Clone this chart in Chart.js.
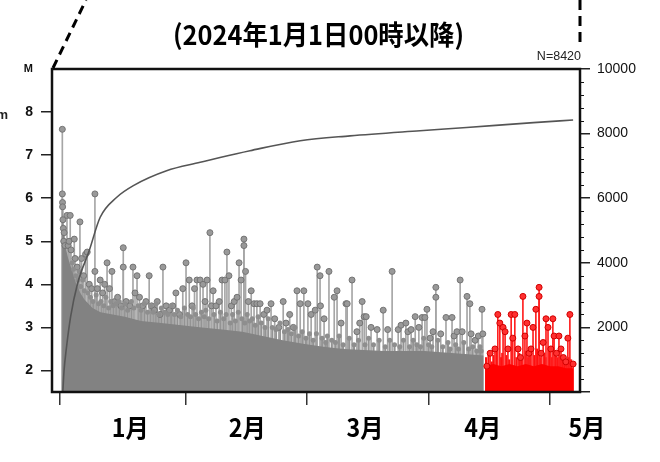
<!DOCTYPE html>
<html>
<head>
<meta charset="utf-8">
<script src="https://cdn.jsdelivr.net/npm/chart.js@4.4.1/dist/chart.umd.min.js"></script>
<style>
  body { margin: 0; background: #fff; }
  #wrap { width: 660px; height: 462px; }
</style>
</head>
<body>
<div id="wrap"><canvas id="eqChart" width="660" height="462"></canvas></div>
<script>
// x axis = days since 2024-01-01 00:00
const tickDays = [0, 31, 61, 91, 121];
const monthLabels = ['1月', '2月', '3月', '4月', '5月'];
const monthLabelDays = [17.3, 46.2, 75.3, 104.4, 130.1];
const magTicks = [2, 3, 4, 5, 6, 7, 8, 9];
const countTicks = [0, 2000, 4000, 6000, 8000, 10000];

// larger events (gray, before the last period)
const grayDays = [0.55, 0.55, 0.6, 0.62, 0.7, 0.8, 0.9, 1.0, 1.2, 1.7, 2.0, 2.2, 2.5, 2.7, 3.5, 3.7, 4.2, 4.9, 5.3, 5.8,
  6.3, 6.7, 7.2, 7.8, 8.6, 8.6, 9.2, 9.9, 10.5, 11.0, 11.6, 12.2, 12.8, 13.5, 14.2, 15.0, 15.6, 15.6, 16.3, 17.2,
  18.0, 18.5, 19.0, 19.6, 20.4, 21.2, 22.0, 22.6, 23.3, 24.0, 24.7, 25.4, 26.2, 27.0, 27.8, 28.6, 29.5, 30.3, 31.1, 31.9,
  32.6, 33.2, 33.8, 34.6, 35.3, 35.8, 36.3, 37.0, 37.4, 37.8, 38.5, 39.3, 40.0, 40.7, 41.2, 41.7, 42.3, 43.0, 43.7, 44.2,
  44.7, 45.4, 45.4, 45.8, 46.5, 47.2, 47.9, 48.6, 49.4, 50.3, 51.1, 52.1, 53.0, 54.0, 55.1, 55.8, 56.7, 57.6, 58.5, 59.3,
  60.2, 61.2, 62.0, 63.0, 63.5, 64.2, 64.3, 65.2, 66.4, 67.7, 68.4, 69.4, 70.6, 70.9, 72.1, 73.3, 74.0, 74.6, 75.1, 75.6,
  76.8, 78.3, 79.8, 80.9, 82.0, 83.5, 84.2, 85.4, 85.9, 86.7, 87.7, 88.6, 89.4, 90.1, 90.6, 91.4, 92.1, 92.8, 92.8, 94.0,
  95.3, 96.8, 97.3, 98.0, 98.8, 99.3, 100.5, 101.2, 101.5, 102.5, 103.3, 104.2, 104.4];
const grayMags = [7.6, 6.1, 5.9, 5.8, 5.5, 5.3, 5.0, 5.2, 4.9, 5.6, 4.9, 5.0, 5.6, 4.8, 5.05, 4.6, 4.4, 5.45, 4.6, 4.2,
  4.7, 4.75, 4.0, 3.9, 6.1, 4.3, 3.9, 4.1, 3.8, 4.0, 4.5, 3.9, 4.3, 3.6, 3.7, 3.5, 4.85, 4.4, 3.6, 3.5,
  4.4, 3.8, 4.2, 3.7, 3.5, 3.6, 4.2, 3.5, 3.4, 3.6, 3.3, 4.4, 3.5, 3.4, 3.5, 3.8, 3.3, 3.9, 4.5, 4.1,
  3.5, 3.9, 4.1, 4.1, 4.0, 3.6, 4.1, 5.2, 3.5, 3.85, 3.5, 3.6, 4.1, 4.1, 4.75, 4.2, 3.5, 3.6, 3.7, 4.5,
  4.1, 5.05, 4.9, 4.3, 3.6, 3.85, 3.55, 3.55, 3.55, 3.3, 3.4, 3.55, 3.2, 3.0, 3.6, 3.1, 3.3, 3.0, 3.85, 3.55,
  3.85, 3.55, 3.3, 3.4, 4.4, 4.2, 3.5, 3.2, 4.3, 3.7, 3.85, 3.1, 3.55, 3.55, 4.1, 2.9, 3.1, 3.6, 3.25, 3.25,
  3.0, 2.95, 3.4, 2.95, 4.3, 2.95, 3.05, 3.1, 2.9, 2.95, 3.25, 3.0, 3.23, 3.23, 3.42, 2.75, 2.9, 3.93, 3.7, 2.85,
  3.23, 3.23, 2.8, 2.9, 4.1, 2.9, 3.72, 3.55, 2.85, 2.7, 2.8, 3.42, 2.85];

// smaller events just above the dense mass (gray)
const minorDays = [3.0, 3.3, 3.9, 4.4, 4.7, 5.1, 5.6, 6.0, 6.9, 7.5, 8.1, 8.9, 9.5, 10.1, 10.8, 11.3, 12.0, 12.5, 13.1, 13.8,
  14.6, 15.2, 16.0, 16.7, 17.6, 18.2, 19.3, 20.0, 20.8, 21.6, 22.3, 23.0, 23.7, 24.4, 25.0, 25.8, 26.6, 27.4, 28.2, 29.0,
  29.8, 30.7, 31.5, 32.2, 32.9, 33.5, 34.2, 34.9, 35.6, 36.0, 36.7, 38.0, 38.8, 39.6, 40.4, 41.0, 42.0, 42.6, 43.3, 44.0,
  44.9, 45.6, 46.2, 46.8, 47.5, 48.2, 48.9, 49.7, 50.6, 51.4, 52.4, 53.3, 54.3, 55.4, 56.3, 57.1, 58.0, 58.9, 59.8, 60.7,
  61.6, 62.5, 63.3, 64.7, 65.6, 66.0, 67.1, 68.0, 68.9, 69.9, 71.4, 72.6, 73.7, 75.3, 76.2, 77.4, 78.8, 80.3, 81.4, 82.6,
  83.9, 84.8, 86.3, 87.2, 88.1, 89.0, 89.8, 91.0, 91.8, 93.3, 94.5, 95.8, 96.3, 97.7, 98.4, 99.7, 100.9, 101.9, 102.9, 103.7, 104.0];
const minorMags = [4.5, 4.35, 4.2, 4.1, 4.3, 3.95, 4.1, 3.85, 3.8, 3.7, 3.6, 3.75, 3.55, 3.6, 3.5, 3.7, 3.45, 3.6, 3.5, 3.55,
  3.6, 3.45, 3.55, 3.4, 3.6, 3.45, 3.5, 3.4, 3.55, 3.35, 3.5, 3.35, 3.55, 3.3, 3.45, 3.35, 3.3, 3.5, 3.3, 3.4,
  3.25, 3.45, 3.3, 3.25, 3.45, 3.3, 3.2, 3.35, 3.25, 3.4, 3.2, 3.3, 3.15, 3.35, 3.2, 3.3, 3.1, 3.3, 3.15, 3.35,
  3.2, 3.1, 3.3, 3.15, 3.2, 3.05, 3.25, 3.1, 3.0, 3.2, 3.0, 2.95, 3.1, 2.9, 2.95, 2.85, 3.0, 2.8, 2.9, 2.75,
  2.85, 2.7, 2.85, 2.75, 2.65, 2.8, 2.7, 2.65, 2.8, 2.6, 2.75, 2.6, 2.7, 2.6, 2.75, 2.6, 2.7, 2.55, 2.7, 2.6,
  2.55, 2.7, 2.55, 2.7, 2.6, 2.55, 2.75, 2.6, 2.55, 2.7, 2.55, 2.65, 2.5, 2.6, 2.5, 2.65, 2.5, 2.55, 2.45, 2.55, 2.45];

// events of the latest period (red)
const redDays = [105.4, 106.2, 107.4, 108.1, 108.6, 109.4, 109.9, 110.6, 111.4, 111.8, 112.3, 113.1, 113.7, 114.3, 114.8,
  115.3, 115.8, 116.3, 116.8, 117.5, 118.3, 118.3, 118.8, 119.3, 120.0, 120.5, 121.2, 121.7, 122.0, 122.6, 123.2, 123.7,
  124.3, 124.9, 125.4, 125.9, 126.7];
const redMags = [2.1, 2.4, 2.5, 3.3, 3.1, 3.0, 2.9, 2.5, 3.3, 2.75, 3.3, 2.5, 2.3, 3.72, 2.8,
  3.1, 2.4, 2.5, 3.0, 3.42, 3.93, 3.72, 2.4, 2.65, 3.2, 3.0, 2.5, 3.2, 2.8, 2.4, 2.8, 2.5,
  2.3, 2.2, 2.75, 3.3, 2.15];
const redMinorDays = [105.2, 105.8, 106.6, 107.0, 107.8, 108.9, 109.2, 110.2, 110.9, 111.6, 112.7, 113.4, 114.0, 115.0, 115.6, 116.1,
  117.1, 117.8, 118.6, 119.6, 119.9, 120.8, 121.5, 122.3, 122.9, 123.5, 124.0, 124.6, 125.1, 125.7, 126.2];
const redMinorMags = [2.3, 2.4, 2.2, 2.35, 2.45, 2.3, 2.4, 2.35, 2.25, 2.45, 2.3, 2.4, 2.3, 2.45, 2.3, 2.4,
  2.35, 2.5, 2.3, 2.4, 2.3, 2.45, 2.3, 2.4, 2.3, 2.35, 2.25, 2.35, 2.2, 2.3, 2.25];

// upper edge of the dense mass of small events
const bandDays = [0.5, 0.7, 1.0, 1.5, 2.0, 2.5, 3.0, 4.0, 5.0, 6.0, 8.0, 10, 13, 16, 20, 25, 30, 35, 40, 45,
  50, 55, 60, 65, 70, 80, 90, 100, 104.6];
const bandMags = [5.9, 5.5, 5.1, 4.8, 4.6, 4.45, 4.3, 4.0, 3.8, 3.65, 3.45, 3.35, 3.3, 3.25, 3.15, 3.1, 3.05, 3.0, 2.95, 2.9,
  2.8, 2.7, 2.62, 2.55, 2.5, 2.45, 2.45, 2.38, 2.35];
const redBandDays = [105.0, 107, 109, 111, 113, 115, 117, 119, 121, 123, 125, 126.8];
const redBandMags = [2.1, 2.15, 2.1, 2.15, 2.1, 2.15, 2.1, 2.15, 2.1, 2.1, 2.05, 2.05];

// cumulative number of events (right axis)
const cumDays = [0.67, 0.8, 1.0, 1.5, 2.6, 4.3, 7.2, 9.9, 14, 18.1, 26.3, 34.6, 39.5, 46.9, 59.3, 71.6, 88.9, 100.4, 116.9, 126.7];
const cumCounts = [0, 300, 700, 1300, 2330, 3350, 4380, 5410, 6030, 6390, 6850, 7110, 7260, 7470, 7780, 7930, 8090, 8190, 8340, 8420];

const pts = (xs, ys) => xs.map((x, i) => ({ x: x, y: ys[i] }));

function fitText(ctx, text, cx, cy, w, font) {
  ctx.font = font;
  const m = ctx.measureText(text).width;
  ctx.save();
  ctx.translate(cx, cy);
  ctx.scale(w / m, 1);
  ctx.textAlign = 'center';
  ctx.textBaseline = 'middle';
  ctx.fillText(text, 0, 0);
  ctx.restore();
}

const decor = {
  id: 'decor',
  afterDraw(chart) {
    const { ctx, chartArea: a, scales } = chart;
    ctx.save();
    ctx.strokeStyle = '#111';
    ctx.lineWidth = 2.5;
    ctx.strokeRect(a.left, a.top, a.right - a.left, a.bottom - a.top);

    // minor ticks on the count axis
    ctx.lineWidth = 1;
    ctx.beginPath();
    for (let v = 400; v < 10000; v += 400) {
      if (v % 2000 === 0) continue;
      const py = Math.round(scales.y2.getPixelForValue(v)) + 0.5;
      ctx.moveTo(a.right, py);
      ctx.lineTo(a.right + 4, py);
    }
    ctx.stroke();

    // dashed leader lines
    ctx.strokeStyle = '#000';
    ctx.lineWidth = 3;
    ctx.setLineDash([9, 6]);
    ctx.beginPath();
    ctx.moveTo(a.left + 1, a.top - 1);
    ctx.lineTo(86, 0);
    ctx.stroke();
    ctx.setLineDash([10, 6]);
    ctx.beginPath();
    ctx.moveTo(a.right, 0);
    ctx.lineTo(a.right, 44);
    ctx.stroke();
    ctx.setLineDash([]);

    ctx.fillStyle = '#000';
    fitText(ctx, '(2024年1月1日00時以降)', 318.5, 35, 291, 'bold 27px "Noto Sans CJK JP"');
    monthLabels.forEach((t, i) => {
      fitText(ctx, t, scales.x.getPixelForValue(monthLabelDays[i]), 427, 37, 'bold 25px "Noto Sans CJK JP"');
    });

    ctx.fillStyle = '#222';
    ctx.font = '12.5px "Liberation Sans"';
    ctx.textAlign = 'right';
    ctx.textBaseline = 'middle';
    ctx.fillText('N=' + cumCounts[cumCounts.length - 1], a.right + 1, 57);
    ctx.font = 'bold 13px "Liberation Sans"';
    ctx.textAlign = 'left';
    ctx.fillText('m', -3.5, 115);
    ctx.restore();
  }
};

Chart.defaults.font.family = 'Liberation Sans';

const ctx = document.getElementById('eqChart').getContext('2d');
const eqChart = new Chart(ctx, {
  type: 'bar',
  data: {
    datasets: [
      {
        type: 'bar', data: pts(grayDays, grayMags), backgroundColor: '#a6a6a6',
        barThickness: 1, grouped: false, order: 5
      },
      {
        type: 'bar', data: pts(minorDays, minorMags), backgroundColor: '#939393',
        barThickness: 1.5, grouped: false, order: 5
      },
      {
        type: 'bar', data: pts(redDays, redMags), backgroundColor: '#ff2020',
        barThickness: 1, grouped: false, order: 5
      },
      {
        type: 'bar', data: pts(redMinorDays, redMinorMags), backgroundColor: '#ff1010',
        barThickness: 1.5, grouped: false, order: 5
      },
      {
        type: 'line', data: pts(bandDays, bandMags), borderWidth: 0, borderColor: '#828282',
        backgroundColor: '#828282', fill: 'start', pointRadius: 0, order: 4
      },
      {
        type: 'line', data: pts(redBandDays, redBandMags), borderWidth: 0, borderColor: '#ff0000',
        backgroundColor: '#ff0000', fill: 'start', pointRadius: 0, order: 4
      },
      {
        type: 'scatter', data: pts(minorDays, minorMags), pointRadius: 2.5,
        backgroundColor: '#8e8e8e', borderWidth: 0, order: 3
      },
      {
        type: 'scatter', data: pts(grayDays, grayMags), pointRadius: 3,
        backgroundColor: '#999999', borderColor: '#747474', borderWidth: 1, order: 3
      },
      {
        type: 'scatter', data: pts(redDays, redMags), pointRadius: 3,
        backgroundColor: '#ff3030', borderColor: '#d00000', borderWidth: 1, order: 3
      },
      {
        type: 'line', data: pts(cumDays, cumCounts), yAxisID: 'y2', borderColor: '#555',
        borderWidth: 1.6, pointRadius: 0, cubicInterpolationMode: 'monotone', fill: false, order: 1
      }
    ]
  },
  options: {
    responsive: false,
    animation: false,
    events: [],
    layout: { padding: { top: 69, left: 0, right: 0, bottom: 0 } },
    plugins: {
      legend: { display: false },
      tooltip: { enabled: false }
    },
    scales: {
      x: {
        type: 'linear', min: -2, max: 128.4, offset: false,
        grid: { offset: false, drawOnChartArea: false, tickLength: 13, color: '#333', lineWidth: 1.5 },
        border: { display: false },
        ticks: { callback: () => '', padding: 0 },
        afterBuildTicks: s => { s.ticks = tickDays.map(v => ({ value: v })); },
        afterFit: s => { s.height = 70; }
      },
      y: {
        position: 'left', min: 1.5, max: 9, beginAtZero: false,
        grid: {
          drawOnChartArea: false, tickLength: 11, lineWidth: 1.5,
          color: c => (c.tick && c.tick.value === 9) ? 'rgba(0,0,0,0)' : '#222'
        },
        border: { display: false },
        ticks: {
          padding: 8, color: '#111',
          font: c => (c.tick && c.tick.value === 9)
            ? { size: 11, weight: 'bold' } : { size: 14, weight: 'bold' },
          callback: v => v === 9 ? 'M' : v
        },
        afterBuildTicks: s => { s.ticks = magTicks.map(v => ({ value: v })); },
        afterFit: s => { s.width = 52; }
      },
      y2: {
        position: 'right', min: 0, max: 10000,
        grid: { drawOnChartArea: false, tickLength: 10, color: '#222', lineWidth: 1.5 },
        border: { display: false },
        ticks: { padding: 7, color: '#111', font: { size: 14 }, callback: v => v === 0 ? '' : v },
        afterBuildTicks: s => { s.ticks = countTicks.map(v => ({ value: v })); },
        afterFit: s => { s.width = 80; }
      }
    }
  },
  plugins: [decor]
});
</script>
</body>
</html>
